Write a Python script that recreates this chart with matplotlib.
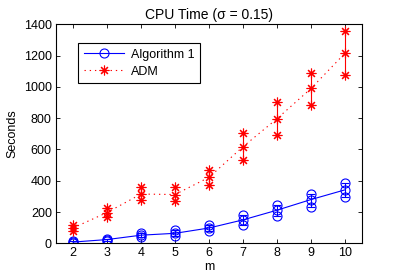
import numpy as np
import matplotlib
matplotlib.use('Agg')
import matplotlib.pyplot as plt
from matplotlib.lines import Line2D

plt.rcParams['font.family'] = ['Liberation Sans', 'DejaVu Sans']

# ------------------------------------------------------------------------------
m = [2, 3, 4, 5, 6, 7, 8, 9, 10]

alg1_high = [13, 30, 66, 88, 120, 178, 246, 314, 388]
alg1_mid = [8, 24, 52, 64, 98, 150, 212, 280, 342]
alg1_low = [4, 18, 40, 48, 76, 118, 174, 235, 298]

adm_high = [120, 228, 360, 360, 470, 706, 904, 1090, 1356]
adm_mid = [98, 197, 315, 312, 422, 618, 797, 990, 1216]
adm_low = [78, 166, 280, 272, 374, 532, 690, 886, 1076]

DOTTED = (0, (1.2, 3.5))

# ------------------------------------------------------------------------------
def plotSeries(ax, low, mid, high, color, marker, ms, ls):
    mid = np.array(mid)
    yerr = [mid - np.array(low), np.array(high) - mid]
    ax.errorbar(m, mid, yerr=yerr, color=color, ls='none', lw=0.8,
                capsize=3, capthick=0.8)
    ax.plot(m, mid, color=color, ls=ls, lw=0.8)
    for vals in (low, mid, high):
        ax.plot(m, vals, ls='none', marker=marker, ms=ms, mfc='none',
                mec=color, mew=0.8)

fig = plt.figure(figsize=(3.99, 2.8), dpi=100)
ax = fig.add_axes([0.1404, 0.131, 0.767, 0.782])

plotSeries(ax, alg1_low, alg1_mid, alg1_high, '#0000ff', 'o', 6.5, '-')
plotSeries(ax, adm_low, adm_mid, adm_high, '#ff0000', (8, 2, 0), 7, DOTTED)

ax.set_xlim(1.5, 10.5)
ax.set_ylim(0, 1400)
ax.set_xticks(m)
ax.set_yticks(range(0, 1401, 200))
ax.tick_params(direction='in', top=True, right=True, labelsize=9,
               length=3, width=0.6, pad=3)
for s in ax.spines.values():
    s.set_linewidth(0.8)
ax.set_xlabel('m', fontsize=9, labelpad=1)
ax.set_ylabel('Seconds', fontsize=9, labelpad=4)
ax.set_title('CPU Time (\u03c3 = 0.15)', fontsize=10, pad=4)

handles = [Line2D([], [], color='#0000ff', ls='-', lw=0.8, marker='o', ms=6.5,
                  mfc='none', mew=0.8),
           Line2D([], [], color='#ff0000', ls=DOTTED, lw=0.8, marker=(8, 2, 0), ms=7,
                  mew=0.8)]
leg = ax.legend(handles, ['Algorithm 1', 'ADM'], loc='upper left',
                bbox_to_anchor=(0.072, 0.915), borderaxespad=0, fontsize=9,
                fancybox=False, framealpha=1, edgecolor='black',
                handlelength=3.2, borderpad=0.45, labelspacing=0.4,
                handletextpad=0.6)
leg.get_frame().set_linewidth(0.8)

fig.savefig('out.png', dpi=100)
